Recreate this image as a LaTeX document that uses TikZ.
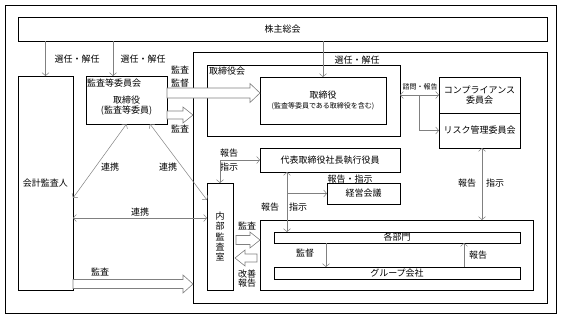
\documentclass[tikz,border=0pt]{standalone}
\usepackage{fontspec}
\setmainfont{Noto Sans CJK JP}
\usetikzlibrary{
    arrows.meta,
    calc
}

\newcommand{\hollowarrow}[4]{%
    \coordinate (hollowbase) at ($(#2)!10pt!(#1)$);
    \filldraw[hollow] ($(#1)!#3!90:(#2)$) -- ($(hollowbase)!#3!90:(#2)$)
        -- ($(hollowbase)!#4!90:(#2)$) -- (#2) -- ($(hollowbase)!#4!-90:(#2)$)
        -- ($(hollowbase)!#3!-90:(#2)$) -- ($(#1)!#3!-90:(#2)$) -- cycle;
}

\begin{document}
\begin{tikzpicture}[
        x=1pt, y=-1pt,
        every node/.style={font=\fontsize{9}{10.5}\selectfont,inner sep=0pt,outer sep=0pt},
        box/.style={draw=black,line width=0.8pt,fill=white},
        frame/.style={draw=black,line width=0.8pt},
        small/.style={font=\fontsize{7}{8.5}\selectfont},
        link/.style={draw=black!50,line width=0.5pt,-{Straight Barb[length=3pt,width=7pt]}},
        twoway/.style={link,{Straight Barb[length=3pt,width=7pt]}-{Straight Barb[length=3pt,width=7pt]}},
        hollow/.style={draw=black!50,line width=0.6pt,fill=white,line join=miter}
    ]
        \useasboundingbox (0,0) rectangle (565,319);
        \node[frame, minimum width=551, minimum height=308] (outer) at (280.5,159) {};

        \node[box, minimum width=529, minimum height=24] (share) at (282.5,29) {株主総会};
        \node[frame, minimum width=354, minimum height=251] (company) at (370,177.5) {};
        \node[frame, minimum width=193, minimum height=71] (board) at (303.5,100.5) {};
        \node[anchor=west] (boardlbl) at (209,71) {取締役会};
        \node[box, minimum width=126, minimum height=47, align=center] (director) at (323,100.5)
            {取締役\\[-1pt]{\fontsize{7}{8}\selectfont (監査等委員である取締役を含む)}};
        \node[box, minimum width=81, minimum height=36, align=center] (compliance) at (479.5,95)
            {コンプライアンス\\委員会};
        \node[box, minimum width=81, minimum height=35] (risk) at (479.5,130.5) {リスク管理委員会};

        \node[box, minimum width=55, minimum height=214] (auditor) at (45.5,183) {会計監査人};
        \node[box, minimum width=81, minimum height=48] (audcom) at (126.5,100) {};
        \node[anchor=west] (audcomlbl) at (87,83) {監査等委員会};
        \node[align=center] (audcomtxt) at (126.5,105.5) {取締役\\(監査等委員)};

        \node[box, minimum width=140, minimum height=24] (ceo) at (330,160) {代表取締役社長執行役員};
        \node[box, minimum width=73, minimum height=21] (mgmt) at (363.5,193.5) {経営会議};
        \node[box, minimum width=26, minimum height=107, align=center,
            font=\fontsize{9}{10.3}\selectfont] (internal) at (220,236.5) {内\\部\\監\\査\\室};

        \node[frame, minimum width=273, minimum height=70] (group) at (396.5,255) {};
        \node[box, minimum width=246, minimum height=11] (depts) at (397,237.5) {各部門};
        \node[box, minimum width=246, minimum height=12] (subs) at (397,273) {グループ会社};

        % labels
        \node (elect1) at (77,59) {選任・解任};
        \node (elect2) at (143,59) {選任・解任};
        \node (elect3) at (357,60) {選任・解任};
        \node (audit1) at (180,70) {監査};
        \node (super1) at (180,83) {監督};
        \node (audit2) at (180,129) {監査};
        \node (coop1) at (110,167) {連携};
        \node (coop2) at (168,167) {連携};
        \node (coop3) at (140,212) {連携};
        \node (audit3) at (100,272) {監査};
        \node (report1) at (229,153) {報告};
        \node (order1) at (229,167) {指示};
        \node (reporder) at (350,179) {報告・指示};
        \node (report2) at (270,207) {報告};
        \node (order2) at (298,207) {指示};
        \node[small] (consult) at (420,87) {諮問・報告};
        \node (report3) at (467,183) {報告};
        \node (order3) at (495,183) {指示};
        \node (super2) at (305,253) {監督};
        \node (report4) at (478,255) {報告};
        \node (audit4) at (247,226) {監査};
        \node (improve) at (247,274) {改善};
        \node (report5) at (247,283) {報告};

        % thin connectors
        \draw[link] (share.south -| auditor.north) -- (auditor.north);
        \draw[link] (share.south -| 113,0) -- (113,0 |- audcom.north);
        \draw[link] (share.south -| director.north) -- (director.north);
        \draw[twoway] (audcom.south) -- (auditor.east |- 0,198);
        \draw[twoway] (audcom.south -| 150,0) -- (internal.west |- 0,200);
        \draw[twoway] (auditor.east |- 0,218) -- (internal.west |- 0,218);
        \draw[twoway] (internal.north) |- (ceo.west);
        \draw[twoway] (ceo.south -| 287,0) -- (depts.north -| 287,0);
        \draw[link] (287,0 |- mgmt.west) -- (mgmt.west);
        \draw[twoway] (board.east |- compliance.west) -- (compliance.west);
        \draw[link] (419,0 |- compliance.west) |- (risk.west);
        \draw[twoway] (risk.south -| 482,0) -- (group.north -| 482,0);
        \draw[link] (depts.south -| 326,0) -- (subs.north -| 326,0);
        \draw[link] (subs.north -| 464,0) -- (depts.south -| 464,0);

        % hollow arrows
        \coordinate (bigtail) at (audcom.east |- 0,93);
        \coordinate (bigtip) at (director.west |- 0,93);
        \hollowarrow{bigtail}{bigtip}{5pt}{9.5pt}
        \coordinate (smalltail) at (audcom.east |- 0,115);
        \coordinate (smalltip) at (company.west |- 0,115);
        \hollowarrow{smalltail}{smalltip}{4pt}{8pt}
        \coordinate (acctail) at (auditor.east |- 0,284);
        \coordinate (acctip) at (company.west |- 0,284);
        \hollowarrow{acctail}{acctip}{4.5pt}{9pt}
        \coordinate (inntail) at ($(internal.east |- 0,240)+(3,0)$);
        \coordinate (inntip) at (group.west |- 0,240);
        \hollowarrow{inntail}{inntip}{4.5pt}{8pt}
        \coordinate (imptail) at ($(group.west |- 0,258)+(-3,0)$);
        \coordinate (imptip) at ($(internal.east |- 0,258)+(2,0)$);
        \hollowarrow{imptail}{imptip}{4pt}{8pt}
    \end{tikzpicture}
\end{document}
